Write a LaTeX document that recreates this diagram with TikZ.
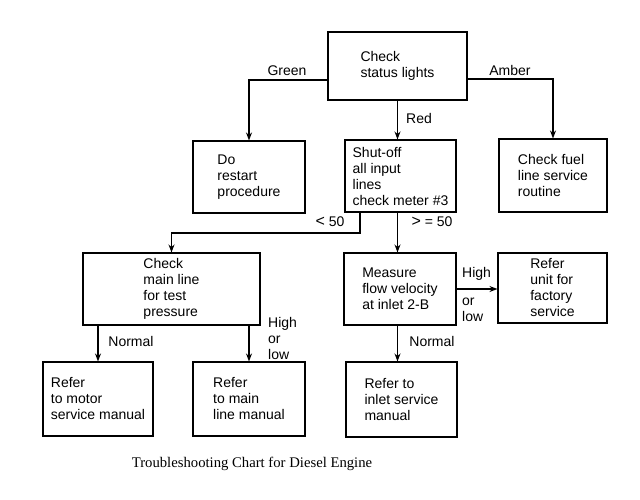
\documentclass[tikz,border=0pt]{standalone}
\usepackage{fontspec}
\setmainfont{Liberation Sans}
\newfontfamily\captionfont{Liberation Serif}
\usetikzlibrary{arrows.meta}
\tikzset{
  chartbox/.style={draw, line width=1.1pt, align=left, inner sep=0pt,
    font=\fontsize{14}{16}\selectfont},
  chartlabel/.style={align=left, inner sep=0pt, font=\fontsize{14}{16}\selectfont},
  flow/.style={line width=1.1pt, -{Stealth[length=8pt,width=6pt]}},
  plain/.style={line width=1.1pt}
}

\begin{document}
\begin{tikzpicture}[x=1pt, y=-1pt]
		%%%%% START %%%%%
		\useasboundingbox (0, 0) rectangle (640, 500);
		
		\node[chartbox, minimum width=139pt, minimum height=68pt] (status) at (397.5, 66) {Check\\status lights};
		
		\node[chartbox, minimum width=112pt, minimum height=72pt] (restart) at (249, 177) {Do\\restart\\procedure};
		\node[chartbox, minimum width=111pt, minimum height=72pt] (shutoff) at (400.5, 176) {Shut-off\\all input\\lines\\check meter \#3};
		\node[chartbox, minimum width=108pt, minimum height=73pt] (fuel) at (553, 175.5) {Check fuel\\line service\\routine};
		
		\node[chartbox, minimum width=177pt, minimum height=72pt] (mainline) at (171.5, 289) {Check\\main line\\for test\\pressure};
		\node[chartbox, minimum width=112pt, minimum height=72pt] (measure) at (400, 289) {Measure\\flow velocity\\at inlet 2-B};
		\node[chartbox, minimum width=109pt, minimum height=70pt] (factory) at (552.5, 288) {Refer\\unit for\\factory\\service};
		
		\node[chartbox, minimum width=110pt, minimum height=74pt] (motor) at (98, 399) {Refer\\to motor\\service manual};
		\node[chartbox, minimum width=112pt, minimum height=74pt] (lineman) at (249, 399) {Refer\\to main\\line manual};
		\node[chartbox, minimum width=111pt, minimum height=75pt] (inlet) at (401.5, 399.5) {Refer to\\inlet service\\manual};
		
		% connectors
		\draw[flow] ([yshift=-14pt]status.west) -| (restart.north);
		\draw[flow] ([yshift=-13pt]status.east) -| (fuel.north);
		\draw[flow] (status.south) -- (status.south |- shutoff.north);
		
		\coordinate (split) at (360, 233);
		\draw[flow] (shutoff.south -| split) -- (split) -| (mainline.north);
		\draw[flow] (shutoff.south -| status.south) -- (measure.north -| status.south);
		
		\draw[flow] (mainline.south -| motor.north) -- (motor.north);
		\draw[flow] (mainline.south -| lineman.north) -- (lineman.north);
		\draw[flow] (measure.east) -- (factory.west |- measure.east);
		\draw[flow] (measure.south -| status.south) -- (inlet.north -| status.south);
		
		% branch labels
		\node[chartlabel] (green) at (287, 71) {Green};
		\node[chartlabel] (amber) at (510, 70) {Amber};
		\node[chartlabel] (red) at (419, 118) {Red};
		\node[chartlabel] (less) at (330, 222) {{\fontsize{16}{16}\selectfont<} 50};
		\node[chartlabel] (more) at (432, 222) {{\fontsize{16}{16}\selectfont>} = 50};
		\node[chartlabel] (normalleft) at (131, 341) {Normal};
		\node[chartlabel, anchor=west] (highleft) at (268, 338) {High\\or\\low};
		\node[chartlabel, anchor=west] (highright) at (462, 274) {High};
		\node[chartlabel, anchor=west] (lowright) at (462, 310) {or\\low};
		\node[chartlabel] (normalright) at (432, 341) {Normal};
		
		\node[font=\captionfont\fontsize{14.7}{16}\selectfont, inner sep=0pt] (caption) at (252, 464) {Troubleshooting Chart for Diesel Engine};
		%%%%% END %%%%%
	\end{tikzpicture}
\end{document}
